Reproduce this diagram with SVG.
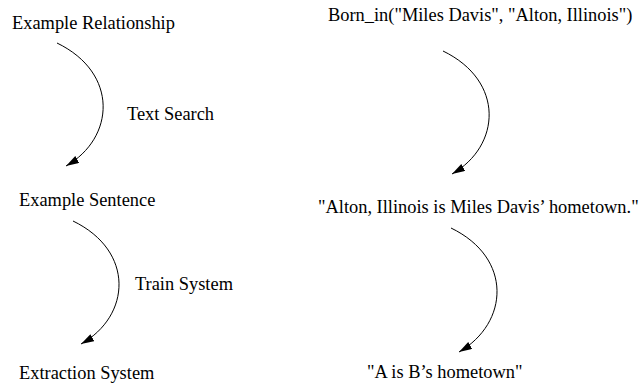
<svg xmlns="http://www.w3.org/2000/svg" width="642" height="387" viewBox="0 0 642 387">
<style>
text{font-family:'Liberation Serif','Times New Roman',serif;font-size:18.4px;fill:#000}
.c{fill:none;stroke:#000;stroke-width:1}
</style>
<defs>
<marker id="ah" markerUnits="userSpaceOnUse" markerWidth="14" markerHeight="10" refX="13" refY="4" orient="auto">
<path d="M0,0 L13,4 L0,8 z" fill="#000"/>
</marker>
</defs>
<rect width="642" height="387" fill="#fff"/>
<g id="connectors">
<path class="c" marker-end="url(#ah)" d="M57,43 c62,30 58,95 9,123"/>
<path class="c" marker-end="url(#ah)" d="M73,221 c62,30 58,95 8,123"/>
<path class="c" marker-end="url(#ah)" d="M443,51 c62,30 58,95 9,123"/>
<path class="c" marker-end="url(#ah)" d="M451,228 c62,30 58,95 8,124"/>
</g>
<g id="n-example-relationship"><text x="12" y="29">Example Relationship</text></g>
<g id="n-born-in"><text x="328" y="21">Born_in("Miles Davis", "Alton, Illinois")</text></g>
<g id="l-text-search"><text x="127" y="120">Text Search</text></g>
<g id="n-example-sentence"><text x="19" y="206">Example Sentence</text></g>
<g id="n-alton-sentence"><text x="318" y="213">"Alton, Illinois is Miles Davis’ hometown."</text></g>
<g id="l-train-system"><text x="135" y="290">Train System</text></g>
<g id="n-extraction-system"><text x="19" y="379">Extraction System</text></g>
<g id="n-pattern"><text x="367" y="378">"A is B’s hometown"</text></g>
</svg>
